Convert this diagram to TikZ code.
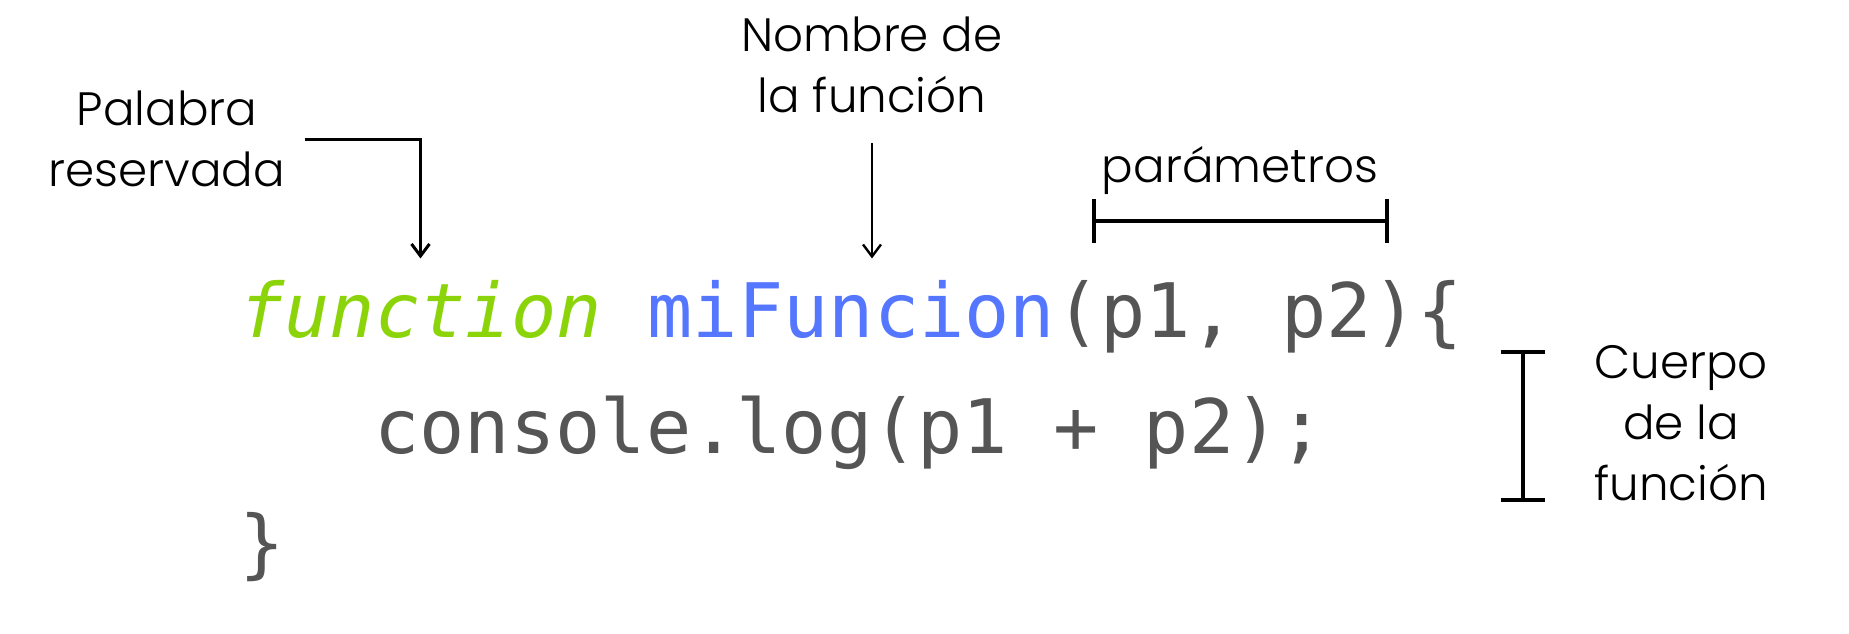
\documentclass[tikz,border=0pt]{standalone}
\usepackage{fontspec}
\usetikzlibrary{arrows.meta}
\newfontfamily\codefont{DejaVu Sans Mono}
\IfFontExistsTF{Poppins Light}{\newfontfamily\labfont{Poppins Light}}{%
  \IfFontExistsTF{Poppins-Light}{\newfontfamily\labfont{Poppins-Light}}{\newfontfamily\labfont{Poppins}}}
\definecolor{kwgreen}{HTML}{8CD40A}
\definecolor{fnblue}{HTML}{5577FF}
\definecolor{codegray}{HTML}{555555}
\begin{document}
\begin{tikzpicture}[x=0.5pt,y=-0.5pt,
  lab/.style={font=\labfont\fontsize{23.4}{30.5}\selectfont, align=center, inner sep=0pt},
  code/.style={font=\codefont\fontsize{37.6}{58}\selectfont, text=codegray, inner sep=0pt, anchor=base west},
  pointer/.style={-{Straight Barb[length=6pt,width=9pt]}, line width=1.5pt},
  bracket/.style={{Bar[width=22pt]}-{Bar[width=22pt]}, line width=2pt}
]
\useasboundingbox (0,0) rectangle (1849,633);
% labels
\node[lab] (pal) at (167,139) {Palabra\\reservada};
\node[lab] (nom) at (872,65) {Nombre de\\la función};
\node[lab, anchor=base] (par) at (1240,182) {parámetros};
\node[lab] (cue) at (1681,423) {Cuerpo\\de la\\función};
% code
\node[code, text=kwgreen] (kw) at (239,337) {\itshape function};
\node[code] (fn) at (kw.base east) {\ \textcolor{fnblue}{miFuncion}(p1, p2)\{};
\node[code] (body) at (374,453) {console.log(p1 + p2);};
\node[code] (close) at (239,569) {\}};
% connectors
\draw[pointer, shorten <=9.5pt, shorten >=10.5pt] (pal.east) -| (kw.north);
\draw[pointer, line width=1.2pt, shorten <=15pt, shorten >=10.5pt] (nom.south) -- (nom.south |- fn.north);
\coordinate (pl) at (1092,221);
\coordinate (pr) at (1389,221);
\draw[bracket] (pl) -- (pr);
\coordinate (bt) at (1523,350);
\coordinate (bb) at (1523,502);
\draw[bracket] (bt) -- (bb);
\end{tikzpicture}
\end{document}
